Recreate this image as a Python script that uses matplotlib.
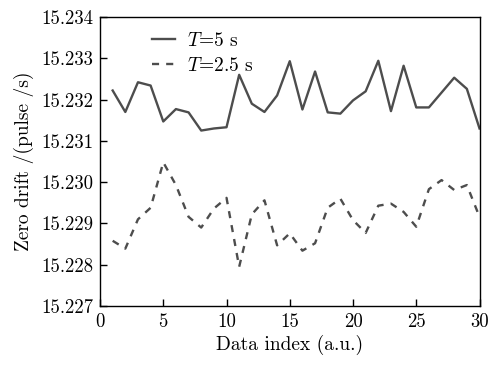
import matplotlib
matplotlib.use("Agg")
import matplotlib.pyplot as plt

plt.rcParams['font.family'] = ['cmr10', 'DejaVu Serif']
plt.rcParams['mathtext.fontset'] = 'cm'
plt.rcParams['axes.formatter.use_mathtext'] = True

idx = list(range(1, 31))
t5 = [15.23222, 15.2317, 15.23242, 15.23234, 15.23147, 15.23177, 15.23169, 15.23125, 15.2313, 15.23133,
      15.2326, 15.2319, 15.2317, 15.2321, 15.23293, 15.23176, 15.23268, 15.23169, 15.23166, 15.23198,
      15.2322, 15.23294, 15.23172, 15.23282, 15.23181, 15.23181, 15.23217, 15.23253, 15.23226, 15.2313]
t25 = [15.22858, 15.22839, 15.2291, 15.22938, 15.23048, 15.22993, 15.22916, 15.2289, 15.22936, 15.22962,
       15.22795, 15.22922, 15.22956, 15.22847, 15.22876, 15.22834, 15.22852, 15.22938, 15.2296, 15.22908,
       15.22877, 15.22943, 15.22948, 15.22928, 15.22892, 15.22983, 15.23005, 15.22981, 15.22993, 15.22916]
xticks = [0, 5, 10, 15, 20, 25, 30]
yticks = [15.227, 15.228, 15.229, 15.230, 15.231, 15.232, 15.233, 15.234]
ytick_labels = ["15.227", "15.228", "15.229", "15.230", "15.231", "15.232", "15.233", "15.234"]

fig = plt.figure(figsize=(4.92, 3.65), dpi=100)
ax = fig.add_axes([0.2033, 0.1616, 0.7713, 0.7918])
col = '#4d4d4d'
ax.plot(idx, t5, color=col, lw=1.7, ls='-', label=r'$T$=5 s')
ax.plot(idx, t25, color=col, lw=1.7, ls=(0, (3, 3)), label=r'$T$=2.5 s')
ax.set_xlim(0, 30)
ax.set_ylim(15.227, 15.234)
ax.set_xticks(xticks)
ax.set_xticklabels([str(v) for v in xticks])
ax.set_yticks(yticks)
ax.set_yticklabels(ytick_labels)
ax.tick_params(direction='in', length=5, width=1, labelsize=13.5, top=False, right=False, pad=5)
for s in ax.spines.values():
    s.set_linewidth(1.0)
ax.set_xlabel('Data index (a.u.)', fontsize=14, labelpad=3)
ax.set_ylabel('Zero drift /(pulse /s)', fontsize=14, labelpad=5)
leg = ax.legend(loc='upper left', bbox_to_anchor=(0.1, 0.995), frameon=False, fontsize=14,
                handlelength=1.2, handletextpad=0.6, labelspacing=0.35, borderaxespad=0.3)
fig.savefig('out.png', dpi=100)
